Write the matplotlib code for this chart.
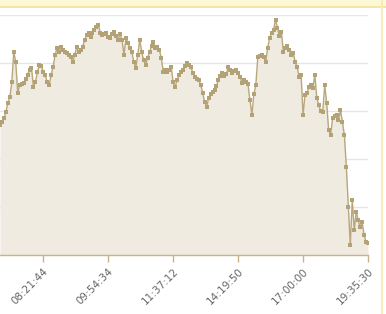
import matplotlib
matplotlib.use("Agg")
import matplotlib.pyplot as plt
from matplotlib.patches import Rectangle
import numpy as np

# values (one point every ~2 px)
values_px = [125, 122, 118, 112, 103, 97, 82, 52, 62, 93, 85, 84, 83, 79, 75, 70, 68, 87, 82, 72,
             65, 66, 72, 75, 82, 85, 75, 67, 55, 48, 52, 47, 50, 52, 53, 55, 57, 62, 55, 47,
             52, 50, 47, 40, 35, 33, 37, 33, 30, 27, 25, 33, 35, 34, 33, 37, 38, 34, 32, 36,
             40, 34, 40, 55, 38, 43, 48, 52, 62, 68, 55, 40, 52, 60, 65, 58, 52, 46, 42, 48,
             47, 50, 58, 72, 70, 72, 70, 67, 82, 87, 80, 75, 72, 70, 66, 63, 65, 67, 73, 77,
             79, 80, 85, 93, 102, 107, 98, 94, 92, 90, 86, 80, 76, 73, 76, 74, 67, 70, 73, 71,
             70, 73, 77, 83, 80, 82, 84, 100, 115, 94, 85, 57, 56, 55, 57, 62, 48, 38, 33, 30,
             20, 28, 36, 32, 52, 48, 46, 50, 55, 53, 62, 67, 77, 75, 115, 95, 93, 87, 85, 88,
             75, 98, 105, 111, 112, 85, 103, 130, 135, 118, 116, 115, 120, 110, 122, 135, 167, 207, 245, 200,
             230, 212, 220, 227, 222, 235, 242, 243]
values = [round((255 - v) / 48.0, 2) for v in values_px]

tick_pos = [22, 55, 88, 121, 154, 187]
tick_labels = ["08:21:44", "09:54:34", "11:37:12", "14:19:50", "17:00:00", "19:35:30"]

line_color = "#b8a77b"
fill_color = "#f0ebe1"
axis_color = "#c9b489"

fig = plt.figure(figsize=(3.86, 3.14), dpi=100)
ax = fig.add_axes([0, 59 / 314, 368 / 386, 240 / 314])

x = np.arange(len(values))
ax.fill_between(x, 0, values, color=fill_color, linewidth=0, zorder=1)
ax.plot(x, values, color=line_color, linewidth=1, marker="s", markersize=2.6,
        markeredgewidth=0, markerfacecolor="#b3a276", zorder=3)

ax.set_xlim(0, len(values) - 1)
ax.set_ylim(0, 5)
ax.set_yticks([1, 2, 3, 4, 5])
ax.yaxis.grid(True, color="#e6e6e6", linewidth=1)
ax.set_axisbelow(True)
ax.tick_params(axis="y", left=False, labelleft=False)

ax.set_xticks(tick_pos)
ax.set_xticklabels(tick_labels, rotation=45, ha="right", rotation_mode="anchor",
                   fontsize=7.5, color="#666666")
ax.tick_params(axis="x", length=5, width=1, color=axis_color, pad=3)

for s in ["top", "right", "left"]:
    ax.spines[s].set_visible(False)
ax.spines["bottom"].set_color(axis_color)
ax.spines["bottom"].set_linewidth(1)

# yellow frame bits at top and right
fig.patches.append(Rectangle((0, 1 - 6 / 314), 1, 6 / 314, transform=fig.transFigure,
                             facecolor="#fdf8d6", edgecolor="none"))
fig.patches.append(Rectangle((0, 1 - 8 / 314), 1, 2 / 314, transform=fig.transFigure,
                             facecolor="#f3e6a6", edgecolor="none"))
fig.patches.append(Rectangle((381 / 386, 0), 2 / 386, 1, transform=fig.transFigure,
                             facecolor="#f6ebbb", edgecolor="none"))

fig.savefig("out.png", dpi=100)
